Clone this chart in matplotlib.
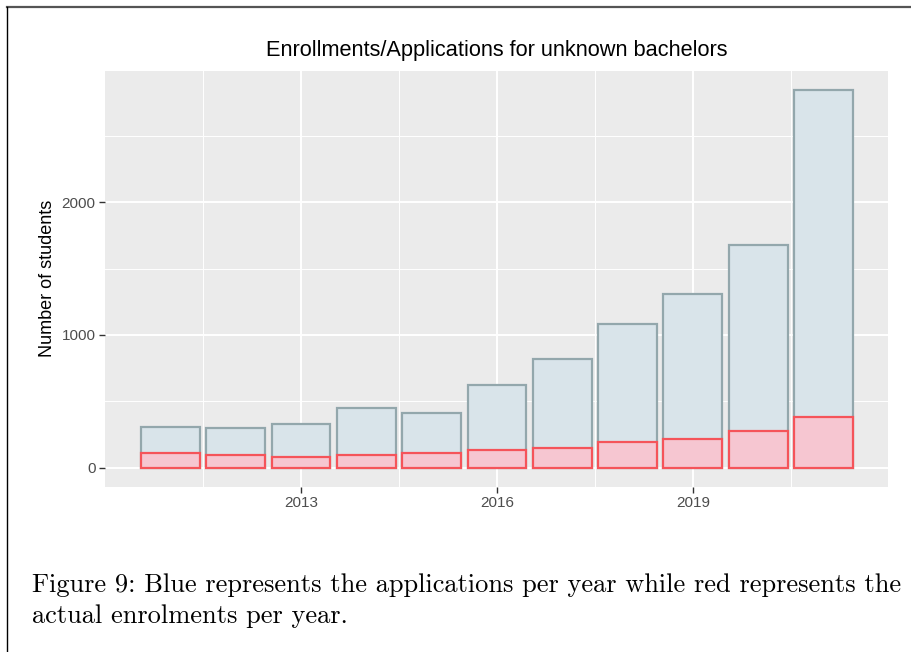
import matplotlib
matplotlib.use("Agg")
import matplotlib.pyplot as plt
from matplotlib.lines import Line2D

# data
years = [2011, 2012, 2013, 2014, 2015, 2016, 2017, 2018, 2019, 2020, 2021]
applications = [309, 299, 329, 448, 410, 623, 819, 1083, 1307, 1678, 2846]
enrolments = [113, 93, 83, 93, 108, 131, 148, 196, 214, 279, 382]
year_ticks = [2013, 2016, 2019]
year_minor = [2011.5, 2014.5, 2017.5, 2020.5]
count_ticks = [0, 1000, 2000]
count_minor = [500, 1500, 2500]

title = "Enrollments/Applications for unknown bachelors"
ylabel = "Number of students"
caption = ("Figure 9: Blue represents the applications per year while red represents the\n"
           "actual enrolments per year.")

plt.rcParams["font.family"] = ["Liberation Sans", "DejaVu Sans"]

fig = plt.figure(figsize=(9.12, 6.52), dpi=100)
ax = fig.add_axes([0.1155, 0.2535, 0.8587, 0.6381])
ax.set_facecolor("#EBEBEB")

ax.bar(years, applications, width=0.9, color="#D9E4EA", edgecolor="#93A7AC",
       linewidth=1.6, zorder=3)
ax.bar(years, enrolments, width=0.9, color="#F6C6D1", edgecolor="#F5545A",
       linewidth=1.6, zorder=4)

ax.set_xlim(2010.005, 2021.995)
ax.set_ylim(-143, 2990)
ax.set_xticks(year_ticks)
ax.set_xticks(year_minor, minor=True)
ax.set_yticks(count_ticks)
ax.set_yticks(count_minor, minor=True)

ax.grid(which="major", color="white", linewidth=1.4, zorder=0)
ax.grid(which="minor", color="white", linewidth=0.7, zorder=0)
ax.set_axisbelow(True)
for s in ax.spines.values():
    s.set_visible(False)
ax.tick_params(which="major", length=4, width=1, color="#333333",
               labelcolor="#4D4D4D", labelsize=11, pad=3)
ax.tick_params(which="minor", length=0)

ax.set_ylabel(ylabel, fontsize=13, color="black", labelpad=4)
fig.text(0.545, 0.923, title, ha="center", va="center", fontsize=15.7, color="black")

fig.text(0.035, 0.037, caption, ha="left", va="bottom", fontsize=19,
         family="cmr10", linespacing=1.4)

# page frame (top and left rules of the screenshot)
fig.add_artist(Line2D([7 / 912, 1], [1 - 6.5 / 652] * 2, color="#555555", linewidth=1.6))
fig.add_artist(Line2D([7 / 912] * 2, [0, 1 - 6.5 / 652], color="black", linewidth=1.0))

fig.savefig("out.png", dpi=100)
